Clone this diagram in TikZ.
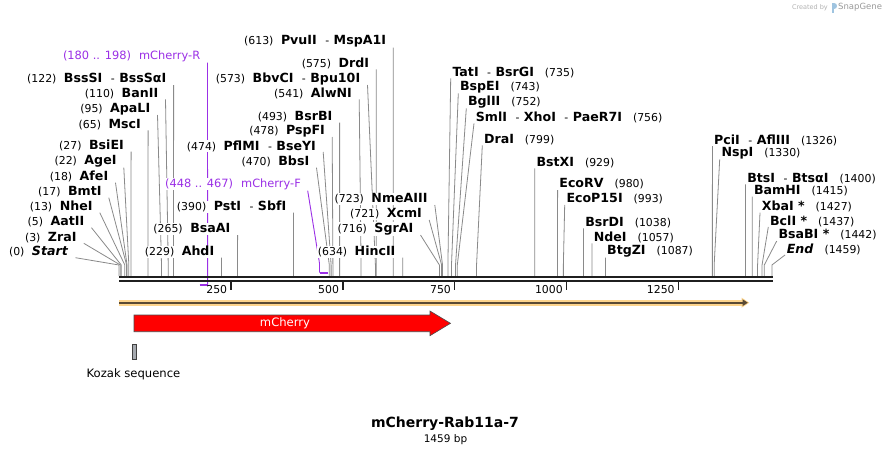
\documentclass[tikz,border=0pt]{standalone}
\usepackage{fontspec}
\setmainfont{DejaVu Sans}
\usetikzlibrary{backgrounds}

\definecolor{cutgrey}{HTML}{8A8A8A}
\definecolor{primerpurple}{HTML}{9B30E6}
\definecolor{orflight}{HTML}{FDD48C}
\definecolor{orfdark}{HTML}{5A4A34}
\definecolor{kozakgrey}{HTML}{A6AAB0}
\definecolor{logoblue}{HTML}{9FC4E0}

\newcommand{\numf}{\fontsize{10.9}{12}\selectfont}
\newcommand{\enzf}{\fontsize{12.6}{14}\selectfont\bfseries}
\newcommand{\cutL}[2]{{\numf(#1)}\hspace{7.5pt}{\enzf #2}}
\newcommand{\cutR}[2]{{\enzf #1}\hspace{11pt}{\numf(#2)}}
\newcommand{\orenz}{\hspace{8.5pt}{\numf\mdseries -}\hspace{4.5pt}}

\begin{document}
\begin{tikzpicture}[x=1pt, y=-1pt,
  lbl/.style={inner sep=0.6pt, fill=white, font=\numf},
  plbl/.style={inner sep=0.6pt, fill=white, text=primerpurple, font=\fontsize{11.4}{13}\selectfont},
  cutline/.style={cutgrey, line width=0.8pt},
  primer/.style={primerpurple, line width=0.9pt},
  primermark/.style={primerpurple, line width=2pt},
  bpline/.style={black!88, line cap=butt}
]
\useasboundingbox (0,0) rectangle (892,455);

% Credit
\node[anchor=east, inner sep=0, text=black!30, font=\fontsize{6.5}{8}\selectfont] (credit) at (828,7.5) {Created by};
\node[anchor=west, inner sep=0, text=black!40, font=\fontsize{8.5}{10}\selectfont] (snapgene) at (838,7.5) {SnapGene};
\fill[logoblue] (831.5,3) rectangle (833.5,13);
\fill[logoblue] (833.5,3) .. controls (837.5,3) and (837.5,8.5) .. (833.5,8.5) -- cycle;

% Sites left of the cut lines
\node[lbl, anchor=east] (startmark) at (69,251.7) {\cutL{0}{\textit{Start}}};
\node[lbl, anchor=east] (zraI) at (77.3,237.3) {\cutL{3}{ZraI}};
\node[lbl, anchor=east] (aatII) at (85,221.7) {\cutL{5}{AatII}};
\node[lbl, anchor=east] (nheI) at (93.3,206.7) {\cutL{13}{NheI}};
\node[lbl, anchor=east] (bmtI) at (102.3,191.7) {\cutL{17}{BmtI}};
\node[lbl, anchor=east] (afeI) at (109,176.7) {\cutL{18}{AfeI}};
\node[lbl, anchor=east] (ageI) at (117.3,161.7) {\cutL{22}{AgeI}};
\node[lbl, anchor=east] (bsiEI) at (124.6,145.7) {\cutL{27}{BsiEI}};
\node[lbl, anchor=east] (mscI) at (141.6,124.3) {\cutL{65}{MscI}};
\node[lbl, anchor=east] (apaLI) at (151,109) {\cutL{95}{ApaLI}};
\node[lbl, anchor=east] (banII) at (159,93.3) {\cutL{110}{BanII}};
\node[lbl, anchor=east] (bssSI) at (167.1,79) {\cutL{122}{BssSI\orenz BssSαI}};
\node[lbl, anchor=east] (ahdI) at (215,251.7) {\cutL{229}{AhdI}};
\node[lbl, anchor=east] (bsaAI) at (231.1,229) {\cutL{265}{BsaAI}};
\node[lbl, anchor=east] (pstI) at (287,206.7) {\cutL{390}{PstI\orenz SbfI}};
\node[lbl, anchor=east] (bbsI) at (310,161.7) {\cutL{470}{BbsI}};
\node[lbl, anchor=east] (pflMI) at (316.7,146) {\cutL{474}{PflMI\orenz BseYI}};
\node[lbl, anchor=east] (pspFI) at (325.7,131) {\cutL{478}{PspFI}};
\node[lbl, anchor=east] (bsrBI) at (333.1,116.7) {\cutL{493}{BsrBI}};
\node[lbl, anchor=east] (alwNI) at (352.7,93.3) {\cutL{541}{AlwNI}};
\node[lbl, anchor=east] (bbvCI) at (361,79) {\cutL{573}{BbvCI\orenz Bpu10I}};
\node[lbl, anchor=east] (drdI) at (369.8,63.3) {\cutL{575}{DrdI}};
\node[lbl, anchor=east] (pvuII) at (386.8,41.7) {\cutL{613}{PvuII\orenz MspA1I}};
\node[lbl, anchor=east] (hincII) at (396.2,251.7) {\cutL{634}{HincII}};
\node[lbl, anchor=east] (sgrAI) at (414,229) {\cutL{716}{SgrAI}};
\node[lbl, anchor=east] (xcmI) at (422.7,214) {\cutL{721}{XcmI}};
\node[lbl, anchor=east] (nmeAIII) at (428.3,199) {\cutL{723}{NmeAIII}};

% Sites right of the cut lines
\node[lbl, anchor=west] (tatI) at (451.7,72.3) {\cutR{TatI\orenz BsrGI}{735}};
\node[lbl, anchor=west] (bspEI) at (459.3,87.3) {\cutR{BspEI}{743}};
\node[lbl, anchor=west] (bglII) at (467.3,102.3) {\cutR{BglII}{752}};
\node[lbl, anchor=west] (smlI) at (475,117.3) {\cutR{SmlI\orenz XhoI\orenz PaeR7I}{756}};
\node[lbl, anchor=west] (draI) at (483.3,139.3) {\cutR{DraI}{799}};
\node[lbl, anchor=west] (bstXI) at (535.7,162.3) {\cutR{BstXI}{929}};
\node[lbl, anchor=west] (ecoRV) at (558.6,184) {\cutR{EcoRV}{980}};
\node[lbl, anchor=west] (ecoP15I) at (565.7,199) {\cutR{EcoP15I}{993}};
\node[lbl, anchor=west] (bsrDI) at (584.5,222.3) {\cutR{BsrDI}{1038}};
\node[lbl, anchor=west] (ndeI) at (593,237.3) {\cutR{NdeI}{1057}};
\node[lbl, anchor=west] (btgZI) at (606.4,251.7) {\cutR{BtgZI}{1087}};
\node[lbl, anchor=west] (pciI) at (713.4,140) {\cutR{PciI\orenz AflIII}{1326}};
\node[lbl, anchor=west] (nspI) at (720.7,153.3) {\cutR{NspI}{1330}};
\node[lbl, anchor=west] (btsI) at (746.5,178.3) {\cutR{BtsI\orenz BtsαI}{1400}};
\node[lbl, anchor=west] (bamHI) at (753.3,190.7) {\cutR{BamHI}{1415}};
\node[lbl, anchor=west] (xbaI) at (761,206.7) {\cutR{XbaI *}{1427}};
\node[lbl, anchor=west] (bclI) at (769.3,221) {\cutR{BclI *}{1437}};
\node[lbl, anchor=west] (bsaBI) at (777.7,235) {\cutR{BsaBI *}{1442}};
\node[lbl, anchor=west] (endmark) at (786,249) {\cutR{\textit{End}}{1459}};

% Primers
\node[plbl, anchor=east] (mchR) at (201,56.7) {(180 .. 198)\hspace{8pt}mCherry-R};
\node[plbl, anchor=east] (mchF) at (301.7,184) {(448 .. 467)\hspace{8pt}mCherry-F};
\coordinate (mchRsite) at (207.6,285);
\coordinate (mchRend) at (199.6,285);
\coordinate (mchFsite) at (319.5,272.7);
\coordinate (mchFend) at (328,272.7);

% Cut lines and primer lines
\begin{pgfonlayer}{background}
\fill[white] (0,0) rectangle (892,455);
\foreach \n/\b in {startmark/0, zraI/3, aatII/5, nheI/13, bmtI/17, afeI/18, ageI/22, bsiEI/27,
    mscI/65, apaLI/95, banII/110, bssSI/122, ahdI/229, bsaAI/265, pstI/390, bbsI/470, pflMI/474,
    pspFI/478, bsrBI/493, alwNI/541, bbvCI/573, drdI/575, pvuII/613, hincII/634, sgrAI/716,
    xcmI/721, nmeAIII/723}
  {
  \coordinate (site\b) at ({119+0.4475*\b},276);
  \draw[cutline] ([shift={(6.5,6)}]\n.east) -- ([yshift=11pt]site\b) -- (site\b);
  }
\foreach \n/\b in {tatI/735, bspEI/743, bglII/752, smlI/756, draI/799, bstXI/929, ecoRV/980,
    ecoP15I/993, bsrDI/1038, ndeI/1057, btgZI/1087, pciI/1326, nspI/1330, btsI/1400,
    bamHI/1415, xbaI/1427, bclI/1437, bsaBI/1442, endmark/1459}
  {
  \coordinate (site\b) at ({119+0.4475*\b},276);
  \draw[cutline] ([shift={(-1,6)}]\n.west) -- ([yshift=11pt]site\b) -- (site\b);
  }
\draw[primer] ([shift={(6.5,6)}]mchR.east) -- (mchRsite);
\draw[primer] ([shift={(6,6.7)}]mchF.east) -- ([yshift=9.4pt]mchFsite) -- (mchFsite);
\end{pgfonlayer}

% Sequence
\draw[bpline, line width=2.6pt] (119,277) -- (772.5,277);
\draw[bpline, line width=2pt] (119,281.3) -- (772.5,281.3);
\draw[primermark] (mchRend) -- (mchRsite);
\draw[primermark] (mchFsite) -- (mchFend);

% Ruler
\foreach \t in {250,500,750,1000,1250}
  {
  \draw[bpline, line width=1.6pt] ({119+0.4475*\t},281.5) -- ++(0,8);
  \node[anchor=east, inner sep=0, font=\numf] (tick\t) at ({119+0.4475*\t-3.5},289.3) {\t};
  }

% ORF
\draw[orflight, line width=5.6pt] (119,302.7) -- (743,302.7);
\fill[orflight] (741.5,297.6) -- (749.3,302.7) -- (741.5,307.8) -- cycle;
\draw[orfdark, line width=1.7pt] (119,302.7) -- (743.5,302.7);
\fill[orfdark] (742.7,299.4) -- (747.8,302.7) -- (742.7,306) -- cycle;

% Features
\filldraw[fill=red, draw=black!70, line width=0.6pt] (134,315) -- (430,315) -- (430,311)
  -- (450.5,323.3) -- (430,335.7) -- (430,331.7) -- (134,331.7) -- cycle;
\node[text=white, font=\fontsize{11.6}{13}\selectfont] (mcherry) at (285,323.3) {mCherry};
\filldraw[fill=kozakgrey, draw=black!75, line width=0.5pt] (132.3,344.5) rectangle (136.4,359.7);
\node[font=\fontsize{11.6}{13}\selectfont, inner sep=0] (kozak) at (133.5,374) {Kozak sequence};

% Title
\node[font=\fontsize{14}{16}\selectfont\bfseries, inner sep=0] (title) at (445,424) {mCherry-Rab11a-7};
\node[font=\fontsize{10.5}{12}\selectfont, inner sep=0] (length) at (445.5,439.3) {1459 bp};
\end{tikzpicture}
\end{document}
